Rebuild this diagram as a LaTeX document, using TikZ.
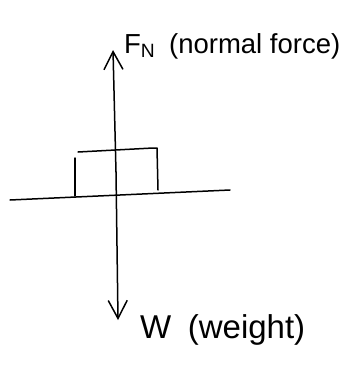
\documentclass[tikz,border=0pt]{standalone}
\usepackage{fontspec}
\setmainfont{Liberation Sans}
\usetikzlibrary{arrows.meta}
\begin{document}
\begin{tikzpicture}[x=1pt,y=-1pt,
  pen/.style={line width=1.5pt,line cap=round,line join=round},
  vtip/.style={-{Straight Barb[length=18pt,width=19pt,line width=1.5pt]}},
  lbl/.style={anchor=west,inner sep=0pt}]
\useasboundingbox (0,0) rectangle (343,367);
% ground
\coordinate (g1) at (10,200);
\coordinate (g2) at (230,190);
\draw[pen] (g1) -- (g2);
% box
\coordinate (bl1) at (75,196);
\coordinate (bl2) at (75,158);
\coordinate (bt1) at (78,152);
\coordinate (bt2) at (153,148);
\coordinate (br1) at (157,148);
\coordinate (br2) at (158,190);
\draw[pen] (bl1) -- (bl2);
\draw[pen] (bt1) -- (bt2) -- (br1) -- (br2);
% force arrows
\coordinate (top) at (113,50);
\coordinate (bot) at (118,320);
\draw[pen,vtip] (116,172) -- (top);
\draw[pen,vtip] (116,172) -- (bot);
% labels
\node[lbl,font=\fontsize{27.5}{30}\selectfont] (fn) at (124,46) {F\textsubscript{N}\enspace(normal force)};
\node[lbl,font=\fontsize{33}{36}\selectfont] (w) at (140,330) {W\enspace(weight)};
\end{tikzpicture}
\end{document}
